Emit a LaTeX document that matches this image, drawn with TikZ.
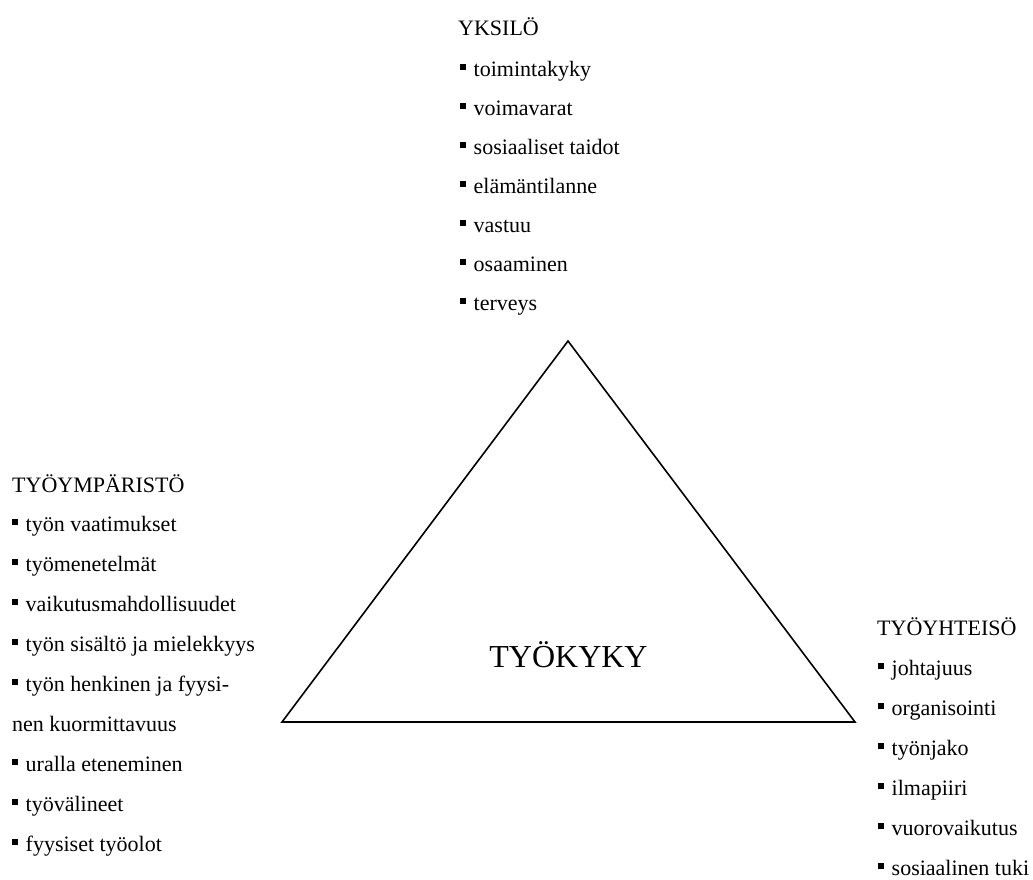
\documentclass[tikz,border=0pt]{standalone}
\usepackage{fontspec}
\setmainfont{Liberation Serif}
\newcommand{\bul}{\rule[6.5pt]{6pt}{6pt}\hspace{7.5pt}}
\begin{document}
\begin{tikzpicture}[x=1pt,y=-1pt,
  txt/.style={anchor=base west, inner sep=0pt, font=\fontsize{22}{26}\selectfont},
  big/.style={anchor=base, inner sep=0pt, font=\fontsize{32}{36}\selectfont},
  tri/.style={draw=black, line width=1.6pt, line join=miter}]
\useasboundingbox (0,0) rectangle (1033,879);
% triangle
\coordinate (apex) at (568,341);
\coordinate (bl) at (282,722);
\coordinate (br) at (855,722);
\draw[tri] (apex) -- (br) -- (bl) -- cycle;
\node[big] (center) at (568.5,667) {TYÖKYKY};
% YKSILÖ
\node[txt] (yt) at (458,35) {YKSILÖ};
\foreach \t [count=\i] in {toimintakyky, voimavarat, sosiaaliset taidot, elämäntilanne, vastuu, osaaminen, terveys}
  \node[txt] (y\i) at (460,{37+39*\i}) {\bul\t};
% TYÖYMPÄRISTÖ
\node[txt] (lt) at (12,492) {TYÖYMPÄRISTÖ};
\foreach \t [count=\i] in {työn vaatimukset, työmenetelmät, vaikutusmahdollisuudet, työn sisältö ja mielekkyys, työn henkinen ja fyysi-}
  \node[txt] (l\i) at (12,{491+40*\i}) {\bul\t};
\node[txt] (l6) at (12,731) {nen kuormittavuus};
\foreach \t [count=\i from 7] in {uralla eteneminen, työvälineet, fyysiset työolot}
  \node[txt] (l\i) at (12,{491+40*\i}) {\bul\t};
% TYÖYHTEISÖ
\node[txt] (rt) at (877,635) {TYÖYHTEISÖ};
\foreach \t [count=\i] in {johtajuus, organisointi, työnjako, ilmapiiri, vuorovaikutus, sosiaalinen tuki}
  \node[txt] (r\i) at (878,{635+40*\i}) {\bul\t};
\end{tikzpicture}
\end{document}
